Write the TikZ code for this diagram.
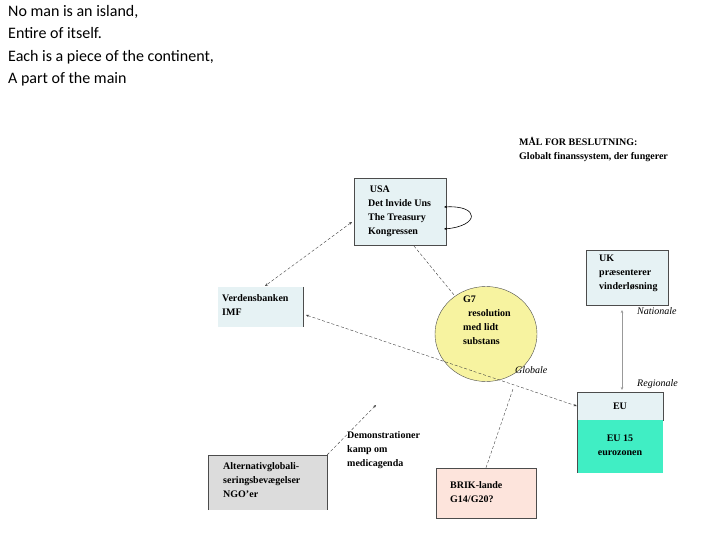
\documentclass[tikz,border=0pt]{standalone}
\usepackage{fontspec}
\setmainfont{Liberation Serif}
\newfontfamily\titlefont{Carlito}
\usetikzlibrary{arrows.meta,shapes.geometric}
\definecolor{lb}{HTML}{E6F2F4}
\definecolor{teal}{HTML}{40EEC4}
\definecolor{gr}{HTML}{DCDCDC}
\definecolor{pk}{HTML}{FDE4DC}
\definecolor{yl}{HTML}{F7F3A0}
\begin{document}
\begin{tikzpicture}[x=1pt,y=-1pt,
  box/.style={draw=black!70,line width=0.5pt,inner sep=0pt},
  lab/.style={font=\fontsize{10}{14}\selectfont\bfseries,align=left,anchor=north west,inner sep=0pt},
  lvl/.style={font=\fontsize{10}{12}\selectfont\itshape,inner sep=0pt},
  dl/.style={densely dashed,line width=0.4pt,black!75},
  tip/.style={-{Stealth[length=3pt,width=2.5pt]}}]
\useasboundingbox (0,0) rectangle (720,540);
\node[font=\titlefont\fontsize{16}{22.5}\selectfont,align=left,anchor=north west,inner sep=0pt] (title) at (8,5)
 {No man is an island,\\Entire of itself.\\Each is a piece of the continent,\\A part of the main};
\node[lab] (mal) at (519,137) {MÅL FOR BESLUTNING:\\Globalt finanssystem, der fungerer};
% USA
\node[box,fill=lb,minimum width=92pt,minimum height=67pt] (usa) at (400,211.5) {};
\node[lab] (usat) at (368,186) {\,USA\\Det lnvide Uns\\The Treasury\\Kongressen};
\coordinate (ua) at (444,207);
\coordinate (ub) at (444,229);
\draw[{Stealth[length=3pt,width=2.5pt]}-{Stealth[length=3pt,width=2.5pt]},line width=0.6pt] (ua) .. controls (480,205) and (480,226) .. (ub);
% Verdensbanken
\node[fill=lb,minimum width=85pt,minimum height=40pt,inner sep=0pt] (vb) at (260.5,307) {};
\draw[black!70,line width=0.5pt] (vb.north east) -- (vb.south east);
\node[lab] (vbt) at (222,294) {Verdensbanken\\IMF};
% G7
\node[draw=black!70,fill=yl,ellipse,minimum width=102pt,minimum height=95pt,inner sep=0pt] (g7) at (486,334) {};
\node[lab] (g7t) at (463,296) {G7\\\ \ resolution\\med lidt\\substans};
% UK
\node[box,fill=lb,minimum width=82pt,minimum height=55pt] (uk) at (627,277.5) {};
\node[lab] (ukt) at (599,255) {UK\\præsenterer\\vinderløsning};
\node[lvl,anchor=west] (nat) at (637,311) {Nationale};
\node[lvl,anchor=west] (reg) at (637,384) {Regionale};
\node[lvl,anchor=west] (glob) at (515,370) {Globale};
% EU
\node[box,fill=lb,minimum width=86pt,minimum height=28pt] (eu) at (620,406) {};
\node[fill=teal,minimum width=86pt,minimum height=53pt,inner sep=0pt] (eu15) at (620,446.5) {};
\draw[black!70,line width=0.5pt] (eu15.north west) -- (eu15.south west);
\node[font=\fontsize{10}{12}\selectfont\bfseries,inner sep=0pt] (eut) at (620,406) {EU};
\node[font=\fontsize{10}{14}\selectfont\bfseries,align=center,inner sep=0pt] (eu15t) at (620,445) {EU 15\\eurozonen};
% Alternativ
\node[fill=gr,minimum width=119pt,minimum height=55pt,inner sep=0pt] (alt) at (267.5,482.5) {};
\draw[black!70,line width=0.5pt] (alt.south west) -- (alt.north west) -- (alt.north east) -- (alt.south east);
\node[lab] (altt) at (223,462) {Alternativglobali-\\seringsbevægelser\\NGO'er};
% BRIK
\node[box,fill=pk,minimum width=100pt,minimum height=50pt] (brik) at (486,493) {};
\node[lab] (brikt) at (450,481) {BRIK-lande\\G14/G20?};
% Demonstrationer
\node[lab] (demo) at (347,431) {Demonstrationer\\kamp om\\medicagenda};
% connectors
\coordinate (altend) at (376,405);
\coordinate (brikj) at (513,389);
\draw[dl,{Stealth[length=3pt,width=2.5pt]}-{Stealth[length=3pt,width=2.5pt]}] (352,222) -- (265,286);
\draw[dl] (414,246) -- (g7);
\draw[dl,{Stealth[length=3pt,width=2.5pt]}-{Stealth[length=3pt,width=2.5pt]}] (306,315) -- (eu.west);
\draw[dl] (brik.north) -- (brikj);
\draw[dl,tip] (alt.north east) -- (altend);
\draw[black!40,line width=0.4pt,{Stealth[length=3pt,width=2.5pt]}-{Stealth[length=3pt,width=2.5pt]}] (622,310) -- (622,390);
\end{tikzpicture}
\end{document}
